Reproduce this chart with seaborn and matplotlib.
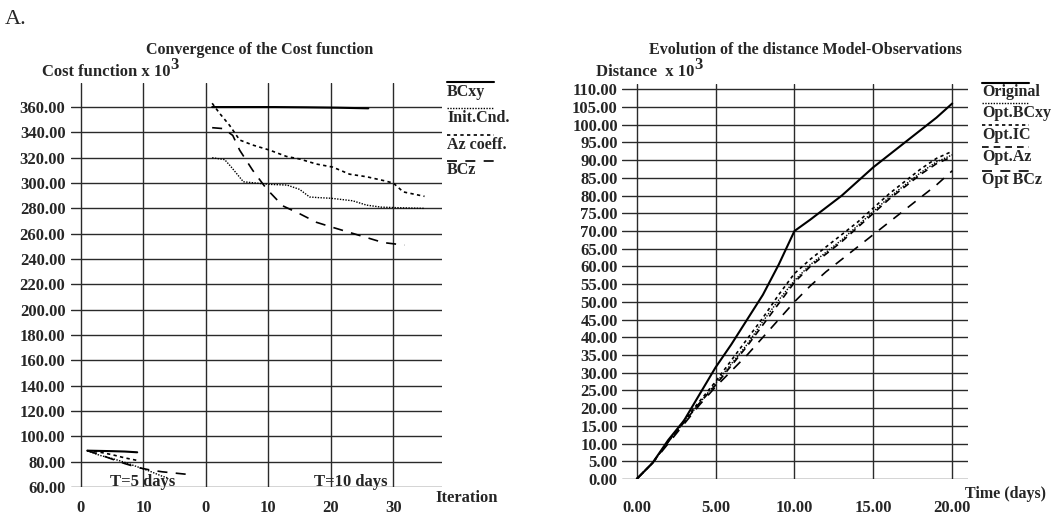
import numpy as np
import pandas as pd
import seaborn as sns
import matplotlib.pyplot as plt
from matplotlib.lines import Line2D

# ---- left panel: cost function (x 10^3) vs iteration ----
# T=5 days run
t5_bcxy_it = [1, 3, 5, 7, 9]
t5_bcxy = [88.7, 88.5, 88.3, 88.0, 87.4]
t5_init_it = [1, 3, 5, 7, 9, 11, 13, 14]
t5_init = [88.7, 85.0, 82.5, 79.5, 76.0, 72.5, 68.5, 67.0]
t5_az_it = [1, 3, 5, 7, 9]
t5_az = [88.7, 87.5, 85.5, 83.0, 81.0]
t5_bcz_it = [1, 3, 5, 7, 9, 11, 13, 15, 17]
t5_bcz = [88.7, 85.5, 82.0, 78.5, 75.5, 73.5, 72.0, 71.0, 70.0]

# T=10 days run
t10_bcxy_it = [1, 6, 11, 16, 21, 26]
t10_bcxy = [360.0, 360.0, 360.0, 359.8, 359.5, 359.0]
t10_init_it = [1, 3, 4, 6, 8, 10, 13, 15, 16.6, 18, 20, 23.5, 25.7, 28, 31, 35]
t10_init = [320, 318.5, 313, 301, 300, 299, 298.4, 295, 289, 288.5, 288, 286, 282.6, 281, 280.5, 280]
t10_az_it = [1, 2.2, 3.8, 5.4, 7.5, 10.2, 12.9, 15, 17.7, 20.3, 23, 25.7, 28.4, 30, 31.6, 35]
t10_az = [363, 355, 345.5, 334, 330, 326, 321, 319, 315, 312.6, 307, 305, 302, 300, 293, 289.5]
t10_bcz_it = [1, 2.8, 4.3, 5.4, 7.5, 9.7, 12.3, 15, 17.7, 20.3, 23, 25.7, 28.4, 31.8]
t10_bcz = [343.7, 343, 337.6, 326, 310, 295.5, 282, 275.8, 269, 265, 261, 257, 253, 251]

iter_ticks = [0, 10, 20, 30, 40, 50]
iter_labels = ["0", "10", "0", "10", "20", "30"]
t10_shift = 20  # second run drawn after the first on the same axis

# ---- right panel: distance model-observations (x 10^3) vs time ----
days = list(range(21))
d_original = [0, 4.5, 11, 16.5, 24, 31.5, 38, 45, 52, 60.5, 70, 73.2, 76.6, 80, 84,
              88, 91.5, 95, 98.5, 102, 106]
d_bcxy = [0, 4.5, 10.5, 16, 21.5, 27, 32.5, 38, 44.5, 50.5, 56, 60.5, 64, 67.5, 71.5,
          75.5, 79.5, 83, 86.5, 89.5, 91.5]
d_ic = [0, 4.5, 10.5, 16.5, 22, 27.5, 33.5, 39.5, 45.5, 52, 58, 62, 65.5, 69, 72.5,
        76.5, 80.5, 84, 87.5, 90.5, 92.5]
d_az = [0, 4.5, 10.5, 16, 21.5, 26.5, 32, 37.5, 43.5, 49.5, 55.5, 60, 63.5, 67, 71,
        75, 79, 82.5, 86, 89, 91]
d_bcz = [0, 4.5, 10, 15.5, 21, 26, 30.5, 35, 40, 45, 50, 54.5, 58.5, 62, 65.5, 69,
         72.5, 76, 79.5, 83, 87]

sns.set_style("white")
plt.rcParams["font.family"] = ["Liberation Serif", "DejaVu Serif"]
plt.rcParams["font.weight"] = "bold"

W, H = 1053, 515
fig = plt.figure(figsize=(W / 100, H / 100), dpi=100)


def fx(px):
    return px / W


def fy(py):
    return 1 - py / H


ax1 = fig.add_axes([fx(71), fy(487), fx(442) - fx(71), fy(83) - fy(487)])
ax2 = fig.add_axes([fx(622), fy(479), fx(968) - fx(622), fy(84) - fy(479)])

styles = {
    "solid": dict(linestyle="-", lw=1.5),
    "dot": dict(linestyle=(0, (1, 1)), lw=1.0),
    "short": dict(linestyle=(0, (2, 2)), lw=1.2),
    "mid": dict(linestyle=(0, (4, 3)), lw=1.2),
    "long": dict(linestyle=(0, (6, 5)), lw=1.2),
}

# left panel
left_series = [
    (t5_bcxy_it, t5_bcxy, 0, "solid"),
    (t5_init_it, t5_init, 0, "dot"),
    (t5_az_it, t5_az, 0, "short"),
    (t5_bcz_it, t5_bcz, 0, "long"),
    (t10_bcxy_it, t10_bcxy, t10_shift, "solid"),
    (t10_init_it, t10_init, t10_shift, "dot"),
    (t10_az_it, t10_az, t10_shift, "short"),
    (t10_bcz_it, t10_bcz, t10_shift, "long"),
]
for it, val, shift, st in left_series:
    df = pd.DataFrame({"it": np.array(it) + shift, "val": val})
    sns.lineplot(data=df, x="it", y="val", ax=ax1, color="black", **styles[st])

ax1.set_xlim(-1.6, 57.8)
ax1.set_ylim(60, 379)
ax1.set_xticks(iter_ticks)
ax1.set_xticklabels(iter_labels)
ax1.set_yticks(np.arange(60, 361, 20))
ax1.yaxis.set_major_formatter(plt.FormatStrFormatter("%.2f"))
ax1.tick_params(axis="x", length=0, pad=9)
ax1.tick_params(axis="y", length=0, pad=4)
ax1.text(9.8, 61, "T=5 days", ha="center", va="baseline", fontsize=12)
ax1.text(43.2, 61, "T=10 days", ha="center", va="baseline", fontsize=12)

# right panel
right_series = [
    (d_original, "solid"),
    (d_bcxy, "dot"),
    (d_ic, "short"),
    (d_az, "mid"),
    (d_bcz, "long"),
]
for val, st in right_series:
    df = pd.DataFrame({"day": days, "val": val})
    sns.lineplot(data=df, x="day", y="val", ax=ax2, color="black", **styles[st])

ax2.set_xlim(-0.93, 21.0)
ax2.set_ylim(0, 111.5)
ax2.set_xticks([0, 5, 10, 15, 20])
ax2.xaxis.set_major_formatter(plt.FormatStrFormatter("%.2f"))
ax2.set_yticks(np.arange(0, 111, 5))
ax2.yaxis.set_major_formatter(plt.FormatStrFormatter("%.2f"))
ax2.tick_params(axis="x", length=0, pad=15)
ax2.tick_params(axis="y", length=0, pad=3)

for ax in (ax1, ax2):
    ax.set_xlabel("")
    ax.set_ylabel("")
    ax.grid(True, color="#2a2a2a", lw=1.0)
    for s in ax.spines.values():
        s.set_visible(False)
    for lab in ax.get_xticklabels() + ax.get_yticklabels():
        lab.set_fontsize(12)
        lab.set_fontweight("bold")

# titles and axis captions (superscript 3 placed after the caption text)
fig.text(fx(5), fy(19), "A.", fontsize=16, fontweight="normal", va="center")
fig.text(fx(260), fy(50), "Convergence of the Cost function", ha="center", va="center", fontsize=11.5)
cap1 = fig.text(fx(42), fy(72), "Cost function x 10", ha="left", va="center", fontsize=12)
ax1.annotate("3", xy=(1.0, 0.45), xycoords=cap1, ha="left", va="bottom", fontsize=12,
             annotation_clip=False)
fig.text(fx(435), fy(498), "Iteration", ha="left", va="center", fontsize=12)
fig.text(fx(805), fy(50), "Evolution of the distance Model-Observations", ha="center", va="center", fontsize=11.5)
cap2 = fig.text(fx(596), fy(72), "Distance  x 10", ha="left", va="center", fontsize=12)
ax2.annotate("3", xy=(1.0, 0.45), xycoords=cap2, ha="left", va="bottom", fontsize=12,
             annotation_clip=False)
fig.text(fx(965), fy(494), "Time (days)", ha="left", va="center", fontsize=11.5)

# legends: line drawn above the label
left_legend = [("BCxy", "solid", 82, 92), ("Init.Cnd.", "dot", 108, 118),
               ("Az coeff.", "short", 135, 145), ("BCz", "long", 161, 170)]
for name, st, ly, ty in left_legend:
    fig.add_artist(Line2D([fx(447), fx(494)], [fy(ly), fy(ly)], color="black", **styles[st]))
    fig.text(fx(447), fy(ty), name, ha="left", va="center", fontsize=11.5)

right_legend = [("Original", "solid", 83, 92), ("Opt.BCxy", "dot", 103, 113),
                ("Opt.IC", "short", 125, 135), ("Opt.Az", "mid", 147, 157),
                ("Opt BCz", "long", 171, 180)]
for name, st, ly, ty in right_legend:
    fig.add_artist(Line2D([fx(982), fx(1029)], [fy(ly), fy(ly)], color="black", **styles[st]))
    fig.text(fx(982), fy(ty), name, ha="left", va="center", fontsize=11.5)

fig.savefig("out.png", dpi=100)
